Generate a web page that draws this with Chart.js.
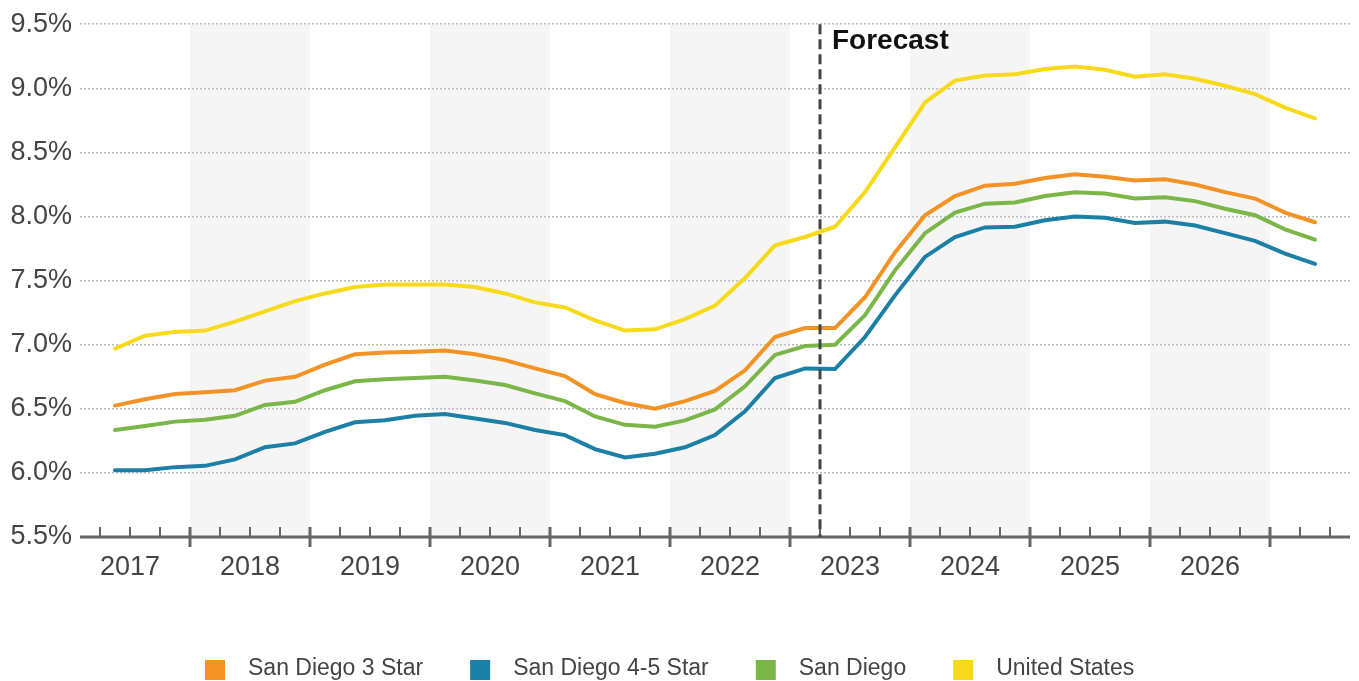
<!DOCTYPE html>
<html><head><meta charset="utf-8">
<script src="https://cdn.jsdelivr.net/npm/chart.js@4"></script>
<style>html,body{margin:0;padding:0;background:#fff}#wrap{width:1359px;height:681px}</style>
</head><body><div id="wrap"><canvas id="c" width="1359" height="681"></canvas></div>
<script>
const quarters = [
  "2017 Q2","2017 Q3","2017 Q4",
  "2018 Q1","2018 Q2","2018 Q3","2018 Q4",
  "2019 Q1","2019 Q2","2019 Q3","2019 Q4",
  "2020 Q1","2020 Q2","2020 Q3","2020 Q4",
  "2021 Q1","2021 Q2","2021 Q3","2021 Q4",
  "2022 Q1","2022 Q2","2022 Q3","2022 Q4",
  "2023 Q1","2023 Q2","2023 Q3","2023 Q4",
  "2024 Q1","2024 Q2","2024 Q3","2024 Q4",
  "2025 Q1","2025 Q2","2025 Q3","2025 Q4",
  "2026 Q1","2026 Q2","2026 Q3","2026 Q4",
  "2027 Q1","2027 Q2"
];
const sanDiego3Star = [
  6.525,6.575,6.615,
  6.63,6.645,6.72,6.75,
  6.845,6.925,6.94,6.945,
  6.955,6.925,6.88,6.815,
  6.755,6.615,6.545,6.50,
  6.56,6.64,6.80,7.06,
  7.13,7.13,7.37,7.72,
  8.01,8.16,8.24,8.255,
  8.30,8.33,8.31,8.28,
  8.29,8.25,8.19,8.14,
  8.03,7.955
];
const sanDiego45Star = [
  6.02,6.02,6.045,
  6.055,6.105,6.20,6.23,
  6.32,6.395,6.41,6.445,
  6.46,6.425,6.39,6.335,
  6.295,6.185,6.12,6.15,
  6.20,6.295,6.48,6.74,
  6.815,6.81,7.06,7.385,
  7.685,7.84,7.915,7.92,
  7.97,8.00,7.99,7.95,
  7.96,7.93,7.87,7.81,
  7.71,7.63
];
const sanDiego = [
  6.335,6.365,6.40,
  6.415,6.445,6.53,6.555,
  6.645,6.715,6.73,6.74,
  6.75,6.72,6.685,6.62,
  6.56,6.44,6.375,6.36,
  6.41,6.495,6.675,6.92,
  6.99,7.00,7.23,7.58,
  7.87,8.03,8.10,8.11,
  8.16,8.19,8.18,8.14,
  8.15,8.12,8.06,8.01,
  7.90,7.82
];
const unitedStates = [
  6.97,7.07,7.10,
  7.11,7.18,7.26,7.34,
  7.40,7.45,7.47,7.47,
  7.47,7.45,7.40,7.33,
  7.29,7.19,7.11,7.12,
  7.20,7.305,7.52,7.775,
  7.84,7.92,8.19,8.54,
  8.89,9.06,9.10,9.11,
  9.15,9.17,9.145,9.09,
  9.11,9.075,9.02,8.955,
  8.85,8.765
];
const yearLabels = [2017,2018,2019,2020,2021,2022,2023,2024,2025,2026];
const shadedYears = [2018,2020,2022,2024,2026];
const forecastQuarter = "2023 Q2";
const forecastLabel = "Forecast";
const seriesNames = ["San Diego 3 Star","San Diego 4-5 Star","San Diego","United States"];
const seriesColors = ["#F39325","#1C7FA6","#7AB648","#F7DA1C"];

const FONT = '"Liberation Sans", Arial, sans-serif';
function qCenter(lbl){const [y,q]=lbl.split(" Q").map(Number);return y+(q-0.5)/4;}
function qStart(lbl){const [y,q]=lbl.split(" Q").map(Number);return y+(q-1)/4;}
const xMin = qCenter(quarters[0]) - 7/24;   // axis starts a little before first point
const xMax = qCenter(quarters[quarters.length-1]) + 7/24;

const allSeries = [sanDiego3Star, sanDiego45Star, sanDiego, unitedStates];
const datasets = allSeries.map((s,k)=>({
  label: seriesNames[k],
  data: quarters.map((q,i)=>({x:qCenter(q), y:s[i]})),
  borderColor: seriesColors[k],
  backgroundColor: seriesColors[k],
  borderWidth: 4,
  pointRadius: 0,
  tension: 0,
  fill: false,
  borderCapStyle: 'round'
}));

const decor = {
  id: 'decor',
  beforeDraw(chart){
    const {ctx, chartArea:a, scales:{x}} = chart;
    ctx.save();
    ctx.fillStyle = '#f5f5f5';
    shadedYears.forEach(y=>{
      const x0 = Math.max(a.left, x.getPixelForValue(y));
      const x1 = Math.min(a.right, x.getPixelForValue(y+1));
      ctx.fillRect(x0, a.top, x1-x0, a.bottom-a.top);
    });
    ctx.restore();
  },
  afterDatasetsDraw(chart){
    const {ctx, chartArea:a, scales:{x}} = chart;
    ctx.save();
    // axis line
    ctx.strokeStyle = '#666';
    ctx.lineWidth = 3;
    ctx.beginPath(); ctx.moveTo(a.left, a.bottom); ctx.lineTo(a.right, a.bottom); ctx.stroke();
    // ticks
    for (let t = Math.ceil(xMin*4)/4; t <= xMax; t += 0.25) {
      const px = Math.round(x.getPixelForValue(t));
      const major = Math.abs(t - Math.round(t)) < 1e-6;
      ctx.lineWidth = major ? 3 : 2;
      ctx.beginPath();
      ctx.moveTo(px, a.bottom - 10);
      ctx.lineTo(px, major ? a.bottom + 10 : a.bottom);
      ctx.stroke();
    }
    // forecast line
    const fx = Math.round(x.getPixelForValue(qStart(forecastQuarter)));
    ctx.strokeStyle = '#444';
    ctx.lineWidth = 3;
    ctx.setLineDash([10,5]);
    ctx.beginPath(); ctx.moveTo(fx, a.top); ctx.lineTo(fx, a.bottom); ctx.stroke();
    ctx.setLineDash([]);
    ctx.fillStyle = '#111';
    ctx.font = 'bold 28px ' + FONT;
    ctx.textBaseline = 'alphabetic';
    ctx.textAlign = 'left';
    ctx.fillText(forecastLabel, fx + 12, 49);
    ctx.restore();
  },
  afterDraw(chart){
    const {ctx} = chart;
    ctx.save();
    ctx.font = '23px ' + FONT;
    ctx.textBaseline = 'middle';
    ctx.textAlign = 'left';
    let cx = 205;
    const box = 20, gap1 = 23, gap2 = 47, cy = 670;
    seriesNames.forEach((n,k)=>{
      ctx.fillStyle = seriesColors[k];
      ctx.fillRect(cx, cy - box/2, box, box);
      cx += box + gap1;
      ctx.fillStyle = '#444';
      ctx.fillText(n, cx, cy - 1);
      cx += ctx.measureText(n).width + gap2;
    });
    ctx.restore();
  }
};

new Chart(document.getElementById('c'), {
  type: 'line',
  data: { datasets },
  plugins: [decor],
  options: {
    responsive: false,
    animation: false,
    devicePixelRatio: 1,
    layout: { padding: { left: 0, right: 9, top: 23, bottom: 84 } },
    plugins: { legend: { display: false }, tooltip: { enabled: false } },
    scales: {
      x: {
        type: 'linear',
        min: xMin, max: xMax,
        afterBuildTicks: s => { s.ticks = yearLabels.map(y => ({ value: y + 0.5 })); },
        afterFit: s => { s.height = 60; },
        grid: { display: false, drawTicks: false },
        border: { display: false },
        ticks: {
          autoSkip: false, maxRotation: 0, padding: 14,
          color: '#444', font: { family: FONT, size: 27 },
          callback: v => String(Math.floor(v))
        }
      },
      y: {
        min: 5.5, max: 9.5,
        afterFit: s => { s.width = 80; },
        grid: { color: '#bdbdbd', lineWidth: 1.5, drawTicks: false },
        border: { display: false, dash: [2, 2] },
        ticks: {
          stepSize: 0.5, padding: 8,
          color: '#444', font: { family: FONT, size: 27 },
          callback: v => v.toFixed(1) + '%'
        }
      }
    }
  }
});
</script>
</body></html>
